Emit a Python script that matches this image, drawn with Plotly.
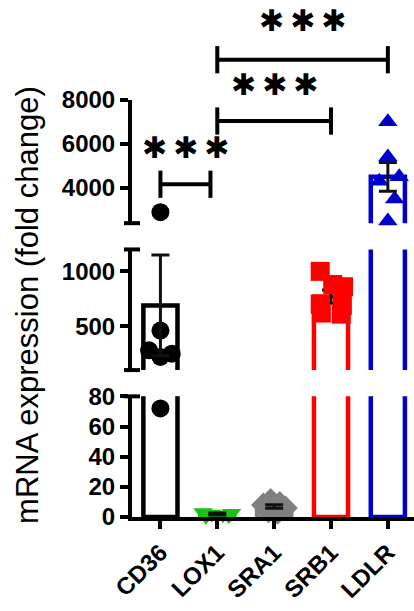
import plotly.graph_objects as go

# ---------------- data ----------------
CATEGORIES = ["CD36", "LOX1", "SRA1", "SRB1", "LDLR"]
BAR_MEANS = [690, 2, 7, 770, 4500]
BAR_SEM = [460, 0.6, 1.2, 60, 650]

CD36_VALUES = [2900, 460, 280, 250, 220, 72]
LOX1_VALUES = [3, 2.5, 2, 1.5, 1, 0.5]
SRA1_VALUES = [11, 9, 8, 6, 4, 3]
SRB1_VALUES = [1000, 880, 860, 700, 690, 620, 610]
LDLR_VALUES = [7000, 5400, 4500, 4300, 3500, 2500]

Y_TICKS_BOTTOM = [0, 20, 40, 60, 80]
Y_TICKS_MIDDLE = [500, 1000]
Y_TICKS_TOP = [4000, 6000, 8000]

SIGNIFICANCE = [("CD36", "LOX1", "***"), ("LOX1", "SRB1", "***"), ("LOX1", "LDLR", "***")]

# ---------------- style ----------------
COLORS = ["#000000", "#19c219", "#808080", "#ff0000", "#0000cc"]
SYMBOLS = ["circle", "triangle-down", "diamond", "square", "triangle-up"]
SIZES = [18, 17, 19, 19, 17]
ERR_ON_TOP = [True, True, True, False, True]
SPREAD = {
    "CD36": [0, 0, -0.2, 0.2, 0.0, 0],
    "LOX1": [-0.25, 0.25, -0.1, 0.1, 0.2, -0.2],
    "SRA1": [-0.06, 0.1, -0.19, 0.2, -0.1, 0.06],
    "SRB1": [-0.19, 0.03, 0.22, -0.19, 0.2, -0.17, 0.18],
    "LDLR": [0, 0, 0.2, -0.15, 0.12, 0],
}
POINTS = {"CD36": CD36_VALUES, "LOX1": LOX1_VALUES, "SRA1": SRA1_VALUES,
          "SRB1": SRB1_VALUES, "LDLR": LDLR_VALUES}

W, H = 414, 611
ML, MB = 132, 94
PH = H - MB  # plot height in px (top margin 0)


def py(pix):
    """pixel y (from top) -> paper y"""
    return (PH - pix) / PH


# segments: (axis name, range, domain pixels top/bottom, ticks)
SEGMENTS = [
    ("y", [0, 80], (393, 517), Y_TICKS_BOTTOM),
    ("y2", [100, 1200], (242, 366), Y_TICKS_MIDDLE),
    ("y3", [2400, 8000], (88, 215), Y_TICKS_TOP),
]

FONT = "Liberation Sans, Arial, sans-serif"

fig = go.Figure()
idx = list(range(len(CATEGORIES)))


def err_trace(i, yname):
    return go.Scatter(
        x=[i], y=[BAR_MEANS[i]], yaxis=yname, mode="markers",
        marker=dict(size=1, color="rgba(0,0,0,0)"),
        error_y=dict(type="data", array=[BAR_SEM[i]], color="#111111",
                     thickness=3, width=9),
        showlegend=False, hoverinfo="skip",
    )


for yname, rng, _, _ in SEGMENTS:
    fig.add_trace(go.Bar(
        x=idx, y=BAR_MEANS, yaxis=yname, width=0.6,
        marker=dict(color="white", line=dict(color=COLORS, width=4.5)),
        showlegend=False, hoverinfo="skip",
    ))
    for i, cat in enumerate(CATEGORIES):
        if not ERR_ON_TOP[i]:
            fig.add_trace(err_trace(i, yname))
        vals = POINTS[cat]
        xs, ys = [], []
        for v, off in zip(vals, SPREAD[cat]):
            if rng[0] <= v <= rng[1]:
                xs.append(i + off)
                ys.append(v)
        if xs:
            fig.add_trace(go.Scatter(
                x=xs, y=ys, yaxis=yname, mode="markers", cliponaxis=False,
                marker=dict(symbol=SYMBOLS[i], size=SIZES[i], color=COLORS[i],
                            line=dict(width=0)),
                showlegend=False, hoverinfo="skip",
            ))
        if ERR_ON_TOP[i]:
            fig.add_trace(err_trace(i, yname))

axis_common = dict(
    showline=True, linewidth=4, linecolor="black", ticks="outside",
    ticklen=8, tickwidth=4, tickcolor="black", showgrid=False, zeroline=False,
    tickfont=dict(family=FONT, size=24, color="black", weight="bold"),
    anchor="x",
)
layout_axes = {}
for yname, rng, (top, bot), ticks in SEGMENTS:
    key = "yaxis" if yname == "y" else "yaxis" + yname[1:]
    layout_axes[key] = dict(axis_common, range=rng, domain=[py(bot), py(top)],
                            tickvals=ticks, ticktext=[str(t) for t in ticks])

fig.update_layout(
    width=W, height=H,
    margin=dict(l=ML, r=0, t=0, b=MB),
    plot_bgcolor="white", paper_bgcolor="white",
    xaxis=dict(range=[-0.5, 4.46], tickvals=idx, ticktext=CATEGORIES,
               tickangle=-45, showline=True, linewidth=4, linecolor="black",
               ticks="outside", ticklen=8, tickwidth=4, tickcolor="black",
               showgrid=False, zeroline=False, anchor="y", layer="above traces",
               tickfont=dict(family=FONT, size=24, color="black", weight="bold")),
    **layout_axes,
)

# axis break caps
shapes = []
for yname, rng, (top, bot), ticks in SEGMENTS:
    ends = []
    if yname != "y3":
        ends.append(top)
    if yname != "y":
        ends.append(bot)
    for e in ends:
        shapes.append(dict(type="line", xref="paper", xsizemode="pixel", xanchor=0,
                           x0=-8, x1=8, yref="paper", y0=py(e), y1=py(e),
                           line=dict(color="black", width=4)))

# significance brackets
BRACKET_LEVELS = [175, 110, 47]
STAR_LEVELS = [137, 72, 7]
for (a, b, label), lvl, slvl in zip(SIGNIFICANCE, BRACKET_LEVELS, STAR_LEVELS):
    xa, xb = CATEGORIES.index(a), CATEGORIES.index(b)
    if xa == 0:
        xb = xb - 0.12
    shapes.append(dict(type="line", xref="x", yref="paper", x0=xa, x1=xb,
                       y0=py(lvl), y1=py(lvl), line=dict(color="black", width=4)))
    for xe in (xa, xb):
        shapes.append(dict(type="line", xref="x", yref="paper", x0=xe, x1=xe,
                           y0=py(lvl - 14), y1=py(lvl + 14),
                           line=dict(color="black", width=4)))
    fig.add_annotation(x=(xa + xb) / 2, y=py(slvl), xref="x", yref="paper",
                       text="\u2009".join("✱" * len(label)), showarrow=False,
                       xanchor="center", yanchor="middle",
                       font=dict(family="DejaVu Sans", size=30, color="black"))

fig.update_layout(shapes=shapes)

fig.add_annotation(x=(28 - ML) / (W - ML), y=py(299), xref="paper", yref="paper",
                   text="mRNA expression (fold change)", textangle=-90,
                   showarrow=False, xanchor="center", yanchor="middle",
                   font=dict(family=FONT, size=31, color="black"))

fig.write_html("out.html", config={"displayModeBar": False},
               post_script="document.body.style.margin='0';")
